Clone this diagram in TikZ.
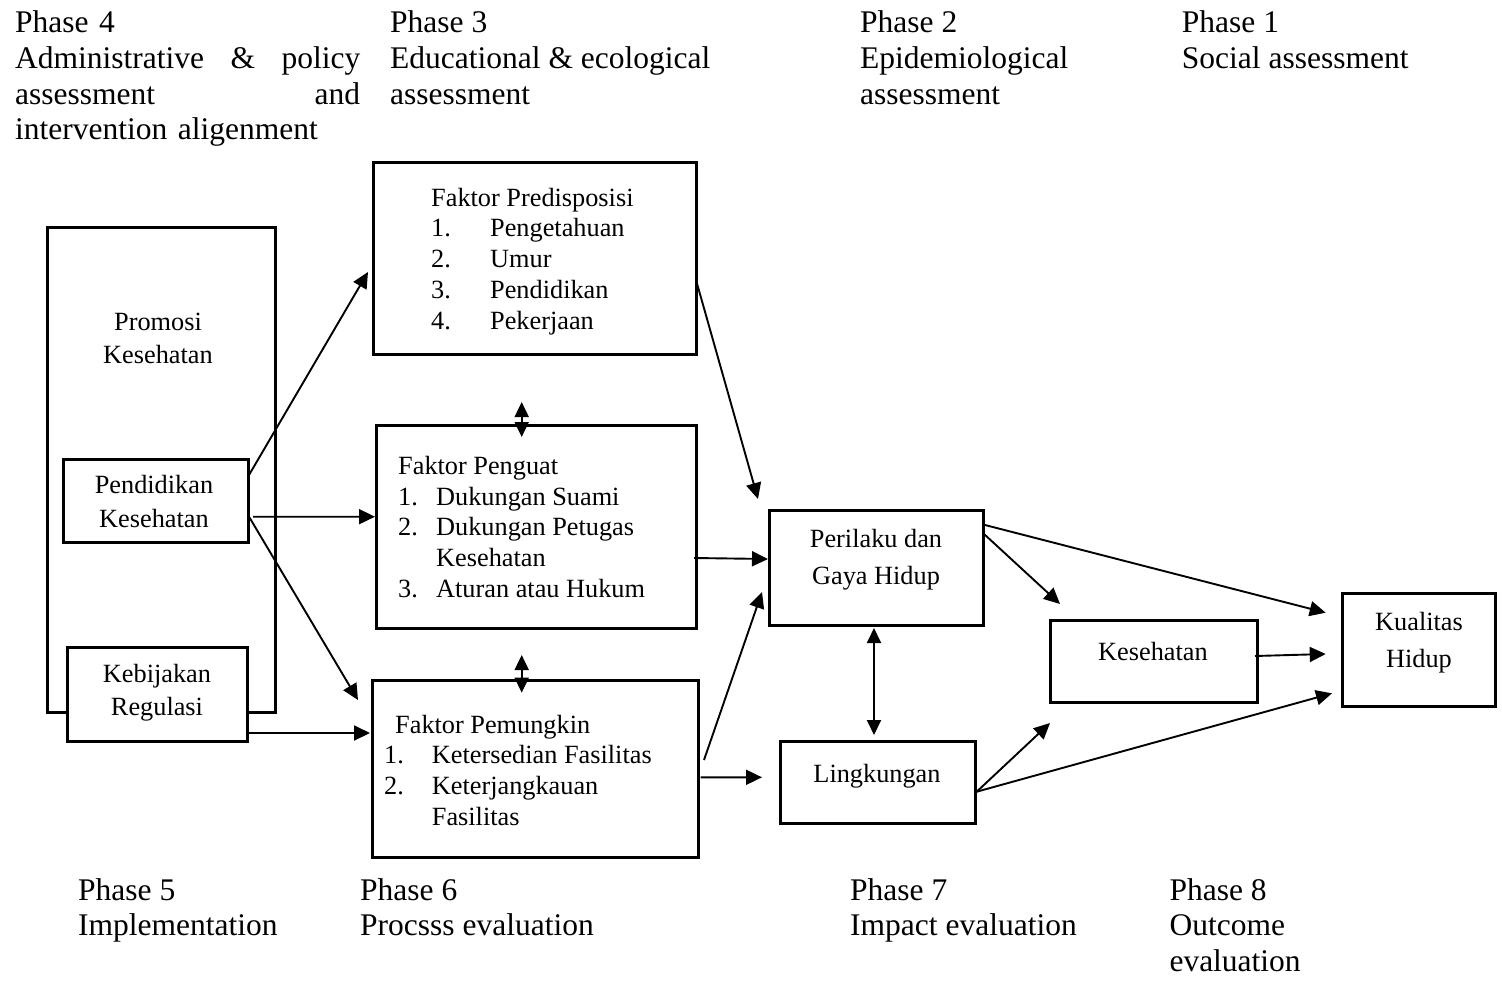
\documentclass[tikz,border=0pt]{standalone}
\usepackage{fontspec}
\setmainfont{Liberation Serif}
\usetikzlibrary{arrows.meta,calc,positioning}
\newcommand{\phasefont}{\fontsize{31.5}{35.6}\selectfont}
\newcommand{\boxfont}{\fontsize{26.3}{30.8}\selectfont}
\newcommand{\itemno}[2]{\makebox[#1][l]{#2}}
\begin{document}
\begin{tikzpicture}
	[x=1pt,y=-1pt,
	box/.style={draw,line width=3pt,inner sep=0pt,outer sep=0pt},
	txt/.style={inner sep=0pt,font=\boxfont,align=center,anchor=north},
	lst/.style={inner sep=0pt,font=\boxfont,align=left,anchor=north west},
	phase/.style={inner sep=0pt,font=\phasefont,align=left,anchor=north west},
	arr/.style={line width=1.9pt,-{Triangle[length=16pt,width=15pt]}},
	dbl/.style={line width=1.9pt,{Triangle[length=15pt,width=14pt]}-{Triangle[length=15pt,width=14pt]}}]
	\useasboundingbox (0,0) rectangle (1502,980);
	
	% phases
	\node [phase,text width=345pt] (phase4) at (15,10.8) {Phase 4\\Administrative\hfill\&\hfill policy\\assessment\hfill and\\intervention aligenment};
	\node [phase] (phase3) at (390,10.8) {Phase 3\\Educational \& ecological\\assessment};
	\node [phase] (phase2) at (860,10.8) {Phase 2\\Epidemiological\\assessment};
	\node [phase] (phase1) at (1181.7,10.8) {Phase 1\\Social assessment};
	\node [phase] (phase5) at (78,878) {Phase 5\\Implementation};
	\node [phase] (phase6) at (360,878) {Phase 6\\Procsss evaluation};
	\node [phase] (phase7) at (850,878) {Phase 7\\Impact evaluation};
	\node [phase] (phase8) at (1169.3,878) {Phase 8\\Outcome\\evaluation};
	
	% boxes
	\node [box,minimum width=228.5pt,minimum height=485pt] (promosi) at (161.25,469.5) {};
	\node [box,minimum width=185pt,minimum height=83.7pt] (pendidikan) at (155.5,500.85) {};
	\node [box,fill=white,minimum width=180pt,minimum height=94.2pt] (kebijakan) at (157,694.6) {};
	\node [box,minimum width=323pt,minimum height=192pt] (predisposisi) at (534.5,258) {};
	\node [box,minimum width=319.3pt,minimum height=203.3pt] (penguat) at (536.35,526.65) {};
	\node [box,minimum width=325.6pt,minimum height=176.6pt] (pemungkin) at (535.5,769) {};
	\node [box,minimum width=213.3pt,minimum height=115pt] (perilaku) at (876.35,567.5) {};
	\node [box,minimum width=195.7pt,minimum height=82.3pt] (lingkungan) at (877.85,782.15) {};
	\node [box,minimum width=207.7pt,minimum height=82.7pt] (kesehatan) at (1153.85,661.35) {};
	\node [box,minimum width=152.3pt,minimum height=113.7pt] (kualitas) at (1418.85,649.85) {};
	
	% box texts
	\node [txt] (lbl promosi) at (158,313) {Promosi\\[2.2pt]Kesehatan};
	\node [txt] (lbl pendidikan) at (154,475) {Pendidikan\\[3.2pt]Kesehatan};
	\node [txt] (lbl kebijakan) at (157,663.7) {Kebijakan\\[2.5pt]Regulasi};
	\node [txt] (lbl perilaku) at (876,529) {Perilaku dan\\[6.2pt]Gaya Hidup};
	\node [txt] (lbl lingkungan) at (877,764) {Lingkungan};
	\node [txt] (lbl kesehatan) at (1153,642) {Kesehatan};
	\node [txt] (lbl kualitas) at (1419,612) {Kualitas\\[5.9pt]Hidup};
	\node [lst] (lbl predisposisi) at (431,187.7) {Faktor Predisposisi\\
		\itemno{59pt}{1.}Pengetahuan\\
		\itemno{59pt}{2.}Umur\\
		\itemno{59pt}{3.}Pendidikan\\
		\itemno{59pt}{4.}Pekerjaan};
	\node [lst,font=\fontsize{26.3}{30.6}\selectfont] (lbl penguat) at (398,456.3) {Faktor Penguat\\
		\itemno{38pt}{1.}Dukungan Suami\\
		\itemno{38pt}{2.}Dukungan Petugas\\
		\hspace*{38pt}Kesehatan\\
		\itemno{38pt}{3.}Aturan atau Hukum};
	\node [lst] (lbl pemungkin) at (384,714.7) {\hspace*{11pt}Faktor Pemungkin\\
		\itemno{47.7pt}{1.}Ketersedian Fasilitas\\
		\itemno{47.7pt}{2.}Keterjangkauan\\
		\hspace*{47.7pt}Fasilitas};
	
	% connectors
	\path [arr]
	($(pendidikan.east)+(0,-24.15)$) edge ($(predisposisi.west)+(-5,14)$)
	($(pendidikan.east)+(5,15.85)$) edge ($(penguat.west)+(-1.7,-9.95)$)
	($(pendidikan.east)+(0,14.15)$) edge ($(pemungkin.west)+(-14.7,-69)$)
	($(kebijakan.east)+(0,38.4)$) edge ($(pemungkin.west)+(-2.7,-36)$)
	($(predisposisi.east)+(0,22)$) edge ($(perilaku.north west)+(-11.7,-11)$)
	($(penguat.east)+(-2,31.35)$) edge ($(perilaku.west)+(-1.7,-8.5)$)
	($(pemungkin.east)+(5.7,-9)$) edge ($(perilaku.west)+(-7.7,24.5)$)
	($(pemungkin.east)+(2.4,8.3)$) edge ($(lingkungan.west)+(-18,-4.85)$)
	($(perilaku.east)+(1,-33.5)$) edge ($(kesehatan.north west)+(10,-16)$)
	($(perilaku.east)+(2,-42.5)$) edge ($(kualitas.west)+(-17,-37.15)$)
	($(kesehatan.east)+(-2.7,-5.35)$) edge ($(kualitas.west)+(-17,4.15)$)
	($(lingkungan.east)+(1,9.55)$) edge ($(kesehatan.south west)+(0,20.3)$)
	($(lingkungan.east)+(1,9.55)$) edge ($(kualitas.west)+(-10.7,43.45)$)
	;
	\path [dbl]
	($(perilaku.south)+(-2.35,3)$) edge ($(lingkungan.north)+(-3.85,-6)$)
	($(penguat.north)+(-14.65,-23)$) edge ($(penguat.north)+(-14.65,12)$)
	($(pemungkin.north)+(-13.8,-25.7)$) edge ($(pemungkin.north)+(-13.8,12)$)
	;
\end{tikzpicture}
\end{document}
